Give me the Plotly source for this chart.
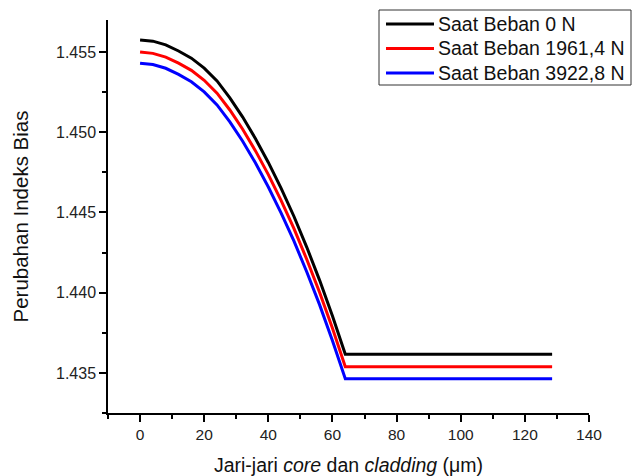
import plotly.graph_objects as go

# Radial position across the fibre (µm) and refractive index for each load
radius_um = [0, 4, 8, 12, 16, 20, 24, 28, 32, 36, 40, 44, 48, 52, 56, 60, 64, 128.5]
n_load_0 = [1.45575, 1.45568, 1.45545, 1.45507, 1.45462, 1.45400, 1.45320, 1.45215,
            1.45095, 1.44960, 1.44812, 1.44650, 1.44475, 1.44283, 1.44077, 1.43855,
            1.43617, 1.43617]
n_load_1961 = [1.45500, 1.45492, 1.45469, 1.45431, 1.45386, 1.45324, 1.45244, 1.45139,
               1.45019, 1.44884, 1.44736, 1.44574, 1.44399, 1.44207, 1.44001, 1.43778,
               1.43539, 1.43539]
n_load_3922 = [1.45430, 1.45422, 1.45399, 1.45361, 1.45315, 1.45252, 1.45171, 1.45065,
               1.44944, 1.44808, 1.44659, 1.44496, 1.44321, 1.44129, 1.43924, 1.43701,
               1.43463, 1.43463]

series_names = ["Saat Beban 0 N", "Saat Beban 1961,4 N", "Saat Beban 3922,8 N"]
series_values = [n_load_0, n_load_1961, n_load_3922]
series_colors = ["#000000", "#ff0000", "#0000ff"]

x_ticks = [0, 20, 40, 60, 80, 100, 120, 140]
y_ticks = [1.435, 1.440, 1.445, 1.450, 1.455]

FONT = "Arial, Liberation Sans, sans-serif"
W, H = 635, 476
ML, MR, MT, MB = 108, 46, 20, 63
PW, PH = W - ML - MR, H - MT - MB


def px_to_paper(px, py):
    return (px - ML) / PW, (H - MB - py) / PH


fig = go.Figure()
for name, vals, col in zip(series_names, series_values, series_colors):
    fig.add_trace(go.Scatter(x=radius_um, y=vals, mode="lines", name=name,
                             line=dict(color=col, width=3), showlegend=False))

# Boxed key in the upper right corner
shapes = []
annotations = []
bx0, by0 = px_to_paper(379, 10)
bx1, by1 = px_to_paper(631, 85)
shapes.append(dict(type="rect", xref="paper", yref="paper", x0=bx0, x1=bx1,
                   y0=by1, y1=by0, line=dict(color="#333333", width=1),
                   fillcolor="white", layer="above"))
for i, (name, col) in enumerate(zip(series_names, series_colors)):
    row_y = 24 + i * 24.5
    lx0, ly = px_to_paper(386, row_y)
    lx1, _ = px_to_paper(434, row_y)
    shapes.append(dict(type="line", xref="paper", yref="paper", x0=lx0, x1=lx1,
                       y0=ly, y1=ly, line=dict(color=col, width=3), layer="above"))
    tx, _ = px_to_paper(436, row_y)
    annotations.append(dict(xref="paper", yref="paper", x=tx, y=ly, text=name,
                            showarrow=False, xanchor="left", yanchor="middle",
                            font=dict(family=FONT, size=19.5, color="#111111")))

fig.update_layout(
    width=W, height=H,
    margin=dict(l=ML, r=MR, t=MT, b=MB, pad=0),
    paper_bgcolor="white", plot_bgcolor="white",
    font=dict(family=FONT, color="#222222"),
    shapes=shapes, annotations=annotations,
    xaxis=dict(
        range=[-10, 140], tickvals=x_ticks, ticktext=[str(v) for v in x_ticks],
        automargin=False,
        showgrid=False, zeroline=False, showline=True, linecolor="#000000", linewidth=1.5,
        ticks="outside", ticklen=7, tickwidth=1.5, tickcolor="#000000",
        minor=dict(dtick=10, tick0=0, ticks="outside", ticklen=4, tickwidth=1.5,
                   tickcolor="#000000", showgrid=False),
        tickfont=dict(family=FONT, size=15.5, color="#222222"),
        title=dict(text="Jari-jari <i>core</i> dan <i>cladding</i> (μm)",
                   font=dict(family=FONT, size=19.5, color="#111111"), standoff=17),
    ),
    yaxis=dict(
        range=[1.4325, 1.457], tickvals=y_ticks, ticktext=[f"{v:.3f}" for v in y_ticks],
        automargin=False,
        showgrid=False, zeroline=False, showline=True, linecolor="#000000", linewidth=1.5,
        ticks="outside", ticklen=7, tickwidth=1.5, tickcolor="#000000",
        minor=dict(dtick=0.0025, tick0=1.435, ticks="outside", ticklen=4, tickwidth=1.5,
                   tickcolor="#000000", showgrid=False),
        tickfont=dict(family=FONT, size=16, color="#222222"),
        title=dict(text="Perubahan Indeks Bias",
                   font=dict(family=FONT, size=20.5, color="#111111"), standoff=22),
    ),
)

fig.write_html("out.html")
